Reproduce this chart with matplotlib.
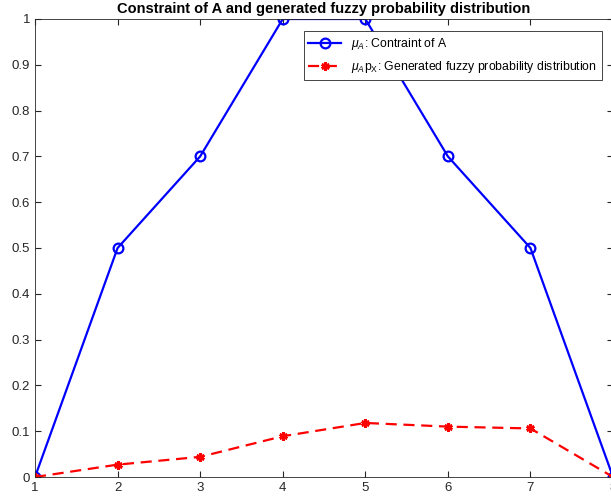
import matplotlib
matplotlib.use('Agg')
from matplotlib import pyplot as plt

plt.rcParams['font.family'] = ['Liberation Sans', 'DejaVu Sans']
plt.rcParams['mathtext.fontset'] = 'custom'
plt.rcParams['mathtext.it'] = 'Liberation Sans:italic'
plt.rcParams['mathtext.rm'] = 'Liberation Sans'

x = [1, 2, 3, 4, 5, 6, 7, 8]
mu_a = [0, 0.5, 0.7, 1, 1, 0.7, 0.5, 0]
mu_a_px = [0, 0.027, 0.044, 0.089, 0.118, 0.110, 0.106, 0]
xticks = [1, 2, 3, 4, 5, 6, 7, 8]
yticks = [0, 0.1, 0.2, 0.3, 0.4, 0.5, 0.6, 0.7, 0.8, 0.9, 1]

fig = plt.figure(figsize=(6.11, 5.0), dpi=100)
ax = fig.add_axes([0.0573, 0.046, 0.946, 0.916])

ax.plot(x, mu_a, color='#0000ff', linewidth=1.6, marker='o', markersize=7,
        markerfacecolor='none', markeredgewidth=1.6, label=r'$\mu_A$: Contraint of A')
ax.plot(x, mu_a_px, color='#ff0000', linewidth=1.6, linestyle=(0, (5, 3)), marker=(6, 2, 0),
        markersize=6, markeredgewidth=2.0,
        label=r'$\mu_A$p$_\mathrm{X}$: Generated fuzzy probability distribution')

ax.set_xlim(1, 8)
ax.set_ylim(0, 1)
ax.set_xticks(xticks)
ax.set_yticks(yticks)
ax.set_yticklabels(['0', '0.1', '0.2', '0.3', '0.4', '0.5', '0.6', '0.7', '0.8', '0.9', '1'])
ax.tick_params(direction='in', top=True, right=True, labelsize=9.5, colors='#262626',
               length=4, pad=3.5)
for s in ax.spines.values():
    s.set_color('#262626')
    s.set_linewidth(0.6)

ax.set_title('Constraint of A and generated fuzzy probability distribution',
             fontsize=10.5, fontweight='bold', pad=4)

leg = ax.legend(loc='upper right', bbox_to_anchor=(0.981, 0.974), borderaxespad=0,
                fontsize=8.8, fancybox=False, framealpha=1, edgecolor='#262626',
                borderpad=0.4, handlelength=2.7, labelspacing=0.6)
leg.get_frame().set_linewidth(0.6)

fig.savefig('out.png', dpi=100)
